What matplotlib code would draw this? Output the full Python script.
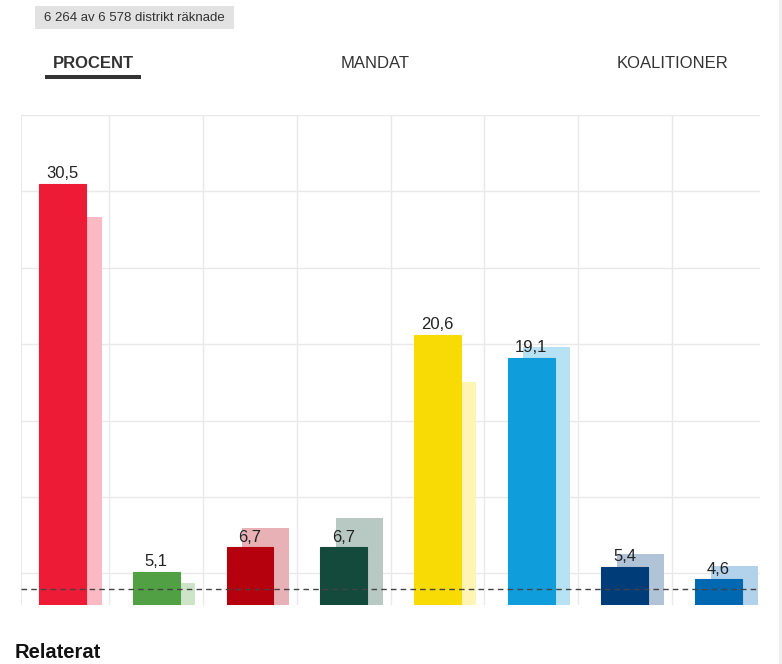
import matplotlib
matplotlib.use("Agg")
import matplotlib.pyplot as plt
from matplotlib.patches import Rectangle

plt.rcParams['font.family'] = ['Liberation Sans', 'DejaVu Sans']

parties = ["S", "MP", "V", "C", "SD", "M", "KD", "L"]
current = [30.5, 5.1, 6.7, 6.7, 20.6, 19.1, 5.4, 4.6]
previous = [28.3, 4.4, 8.0, 8.6, 17.5, 19.8, 6.3, 5.5]
colors = ["#EE1B37", "#52A044", "#B5000D", "#134A3B", "#F8DA04", "#109DDB", "#003C78", "#0068B1"]
prev_colors = ["#FBB9C3", "#CDE4C8", "#E8B1B5", "#B8C9C4", "#FEF5B4", "#B7E2F4", "#B1C3D7", "#B1D2EA"]
threshold = 4
header_text = "6 264 av 6 578 distrikt räknade"
tabs = ["PROCENT", "MANDAT", "KOALITIONER"]
related = "Relaterat"

W, H = 782, 664
fig = plt.figure(figsize=(W / 100, H / 100), dpi=100)

def fx(px):
    return px / W

def fy(py):
    return 1 - py / H

ax = fig.add_axes([fx(20.7), fy(605), fx(760) - fx(20.7), fy(115) - fy(605)])
ax.set_xlim(-0.447, 7.443)
ax.set_ylim(2.93, 35)

# grid
for yv in range(5, 36, 5):
    ax.axhline(yv, color="#E9E9E9", lw=1, zorder=0)
for k in range(1, 8):
    ax.axvline(k - 0.5, color="#E9E9E9", lw=1, zorder=0)
ax.axvline(-0.447, color="#E9E9E9", lw=1.5, zorder=0)

x = list(range(len(parties)))
bw = 0.5
off = 0.167
ax.bar([i + off for i in x], previous, width=bw, color=prev_colors, zorder=1)
ax.bar(x, current, width=bw, color=colors, zorder=2, edgecolor=colors, linewidth=0.8)

ax.axhline(threshold, color="#444444", lw=1, ls=(0, (4, 3)), zorder=4)

for i, v in enumerate(current):
    ax.annotate(f"{v:.1f}".replace(".", ","), (i, v), xytext=(0, 2), textcoords="offset points",
                ha="center", va="bottom", fontsize=12, color="#222222", zorder=5)

for s in ax.spines.values():
    s.set_visible(False)
ax.set_xticks([])
ax.set_yticks([])
ax.patch.set_alpha(0)

# header box
fig.patches.append(Rectangle((fx(35), fy(29)), fx(234) - fx(35), fy(6) - fy(29),
                             transform=fig.transFigure, facecolor="#E2E2E2", edgecolor="none"))
fig.text(fx(134.5), fy(18), header_text, ha="center", va="center", fontsize=9.5, color="#333333")

# tabs
fig.text(fx(93), fy(63.5), tabs[0], ha="center", va="center", fontsize=12, fontweight="bold", color="#333333")
fig.patches.append(Rectangle((fx(45), fy(78.5)), fx(141) - fx(45), fy(75.5) - fy(78.5),
                             transform=fig.transFigure, facecolor="#333333", edgecolor="none"))
fig.text(fx(375), fy(63.5), tabs[1], ha="center", va="center", fontsize=12, color="#333333")
fig.text(fx(673), fy(63.5), tabs[2], ha="center", va="center", fontsize=12, color="#333333")

fig.text(fx(15), fy(652), related, ha="left", va="center", fontsize=14.5, fontweight="bold", color="#111111")

fig.patches.append(Rectangle((fx(779), 0), fx(782) - fx(779), 1,
                             transform=fig.transFigure, facecolor="#F0F0F0", edgecolor="none"))

fig.savefig("out.png", dpi=100)
